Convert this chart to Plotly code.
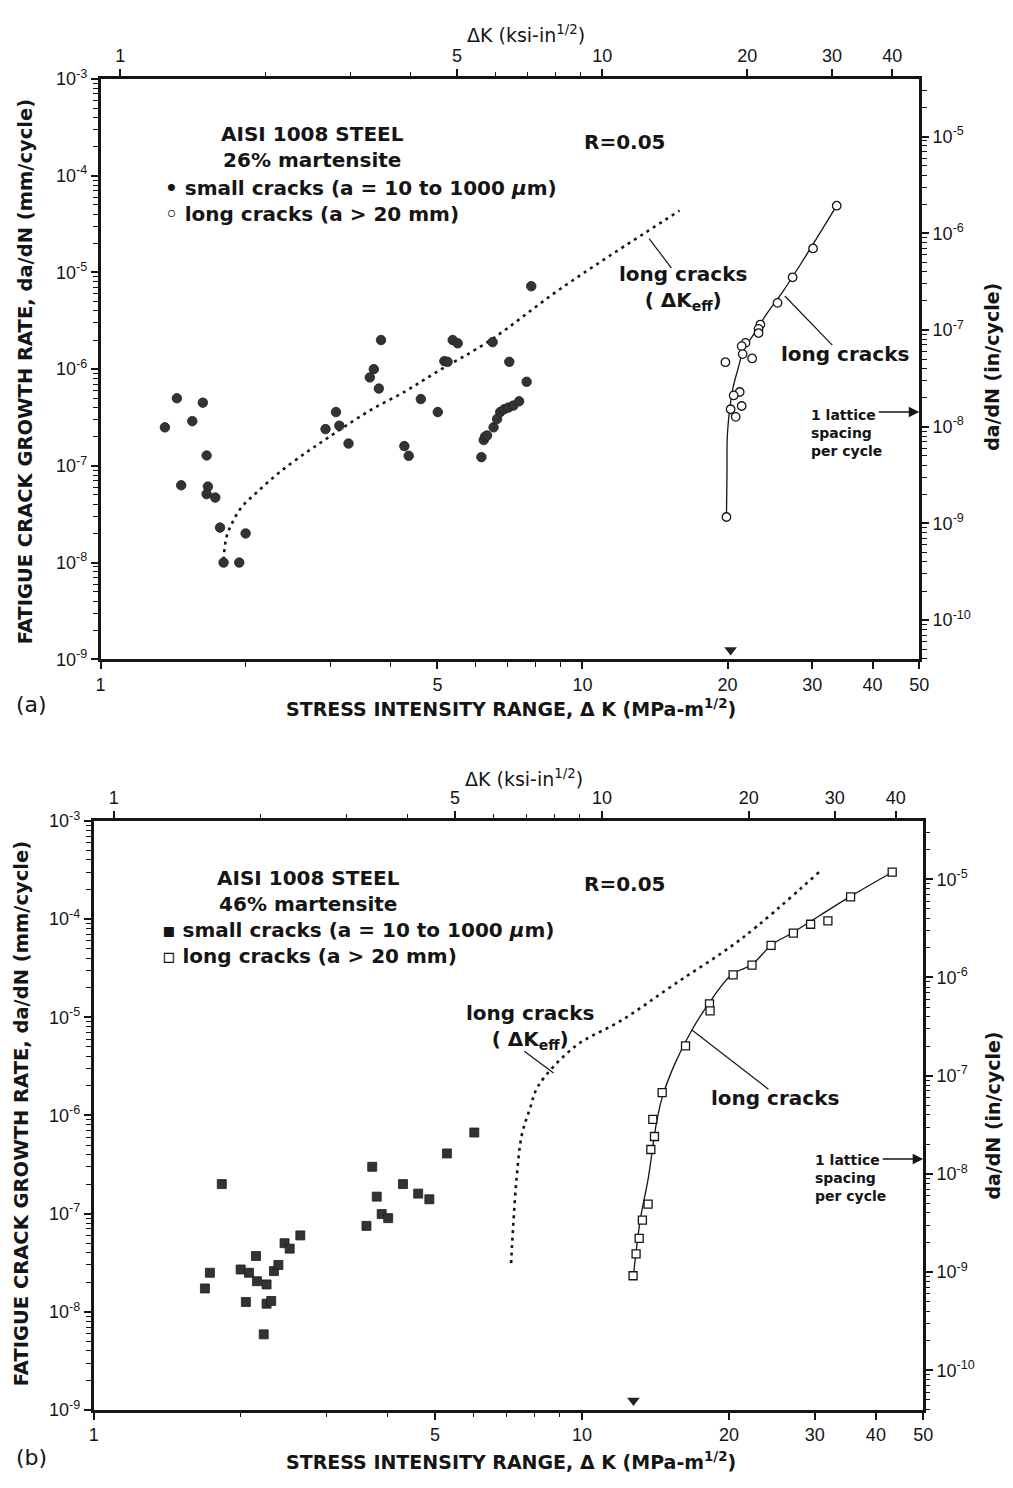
import numpy as np
import plotly.graph_objects as go

W, H = 1013, 1488
KSI_TO_MPA = 1.0988      # 1 ksi·in^1/2 expressed in MPa·m^1/2
MM_PER_IN = 25.4
FONT = "Liberation Sans"
TEXT_FONT = "DejaVu Sans"
INK = "#151515"

# ---------------- (a) AISI 1008, 26% martensite ----------------
a_small_dk = [1.36, 1.44, 1.47, 1.55, 1.63, 1.66, 1.67, 1.66, 1.73, 1.77, 2.00, 1.80, 1.94,
              3.08, 2.93, 3.13, 3.27, 3.82, 3.69, 3.62, 3.78, 4.62, 4.27, 4.36, 5.01,
              5.38, 5.51, 5.17, 5.25, 6.51, 7.05, 7.66, 7.83,
              6.17, 6.24, 6.28, 6.34, 6.54, 6.65, 6.75, 6.88, 7.02, 7.19, 7.39]
a_small_rate = [2.5e-7, 5.0e-7, 6.3e-8, 2.9e-7, 4.5e-7, 1.28e-7, 6.1e-8, 5.1e-8, 4.7e-8, 2.3e-8, 2.0e-8, 1.0e-8, 1.0e-8,
                3.6e-7, 2.4e-7, 2.6e-7, 1.7e-7, 2.0e-6, 1.0e-6, 8.2e-7, 6.3e-7, 4.9e-7, 1.6e-7, 1.27e-7, 3.6e-7,
                2.0e-6, 1.85e-6, 1.21e-6, 1.19e-6, 1.9e-6, 1.19e-6, 7.4e-7, 7.2e-6,
                1.23e-7, 1.85e-7, 2.0e-7, 2.06e-7, 2.5e-7, 3.05e-7, 3.6e-7, 3.85e-7, 4.0e-7, 4.2e-7, 4.65e-7]

a_long_dk = [33.7, 30.1, 27.3, 25.4, 23.4, 23.2, 23.2, 21.8, 21.4, 21.5, 22.5, 19.8,
             21.2, 20.6, 21.4, 20.3, 20.8, 19.9]
a_long_rate = [4.9e-5, 1.77e-5, 8.9e-6, 4.84e-6, 2.89e-6, 2.61e-6, 2.36e-6, 1.87e-6, 1.73e-6, 1.43e-6, 1.29e-6, 1.18e-6,
               5.8e-7, 5.35e-7, 4.16e-7, 3.85e-7, 3.21e-7, 2.96e-8]

a_fit_dk = [19.9, 19.95, 20.0, 20.5, 21.0, 21.6, 22.7, 24.1, 26.1, 28.6, 33.7]
a_fit_rate = [2.96e-8, 8.0e-8, 2.2e-7, 6.15e-7, 9.8e-7, 1.57e-6, 2.32e-6, 3.71e-6, 6.42e-6, 1.3e-5, 4.9e-5]

a_eff_dk = [1.80, 1.825, 1.87, 1.96, 2.12, 2.36, 2.68, 2.94, 3.23, 3.66, 4.29, 4.94, 6.44, 9.05, 15.9]
a_eff_rate = [1.07e-8, 1.84e-8, 2.49e-8, 3.72e-8, 5.45e-8, 8.7e-8, 1.39e-7, 1.9e-7, 2.6e-7, 3.85e-7,
              5.9e-7, 9.1e-7, 1.99e-6, 6.9e-6, 4.35e-5]

a_threshold_dk = 20.3

# ---------------- (b) AISI 1008, 46% martensite ----------------
b_small_dk = [1.83, 1.73, 1.69, 2.15, 2.00, 2.08, 2.16, 2.26, 2.34, 2.39, 2.05, 2.26, 2.31, 2.23,
              2.46, 2.52, 2.65, 3.62, 3.72, 3.80, 3.89, 4.01, 4.30, 4.62, 4.87, 5.29, 6.02]
b_small_rate = [2.0e-7, 2.5e-8, 1.73e-8, 3.7e-8, 2.7e-8, 2.5e-8, 2.05e-8, 1.9e-8, 2.6e-8, 3.0e-8, 1.26e-8, 1.21e-8,
                1.29e-8, 5.9e-9, 5.0e-8, 4.4e-8, 6.0e-8, 7.5e-8, 3.0e-7, 1.49e-7, 9.9e-8, 9.0e-8, 2.0e-7,
                1.6e-7, 1.4e-7, 4.1e-7, 6.7e-7]

b_long_dk = [43.2, 35.5, 31.9, 29.4, 27.1, 24.4, 22.3, 20.4, 18.25, 18.3, 16.3, 14.6,
             13.97, 14.08, 13.84, 13.66, 13.3, 13.1, 12.91, 12.73]
b_long_rate = [3.0e-4, 1.68e-4, 9.6e-5, 8.85e-5, 7.2e-5, 5.4e-5, 3.4e-5, 2.7e-5, 1.37e-5, 1.16e-5, 5.1e-6, 1.71e-6,
               9.1e-7, 6.1e-7, 4.5e-7, 1.25e-7, 8.6e-8, 5.6e-8, 3.9e-8, 2.33e-8]

b_fit_dk = [12.75, 13.16, 13.68, 14.22, 14.64, 15.53, 16.8, 18.17, 20.28, 22.3, 24.5, 26.9, 35.4, 43.2]
b_fit_rate = [2.33e-8, 8.5e-8, 2.33e-7, 8.57e-7, 1.59e-6, 3.43e-6, 7.41e-6, 1.37e-5, 2.72e-5,
              3.45e-5, 5.48e-5, 7.18e-5, 1.69e-4, 3.0e-4]

b_eff_dk = [7.16, 7.23, 7.35, 7.53, 7.83, 8.14, 9.68, 12.07, 15.5, 21.3, 30.8]
b_eff_rate = [3.13e-8, 7.35e-8, 2.33e-7, 6.3e-7, 1.18e-6, 2.0e-6, 5.04e-6, 9.33e-6, 2.18e-5, 6.4e-5, 3.1e-4]

b_threshold_dk = 12.75

LATTICE_RATE = 3.6e-7        # mm/cycle, one lattice spacing per cycle
ARROW_RATE = 1.25e-9         # height of threshold marker above the lower axis

# axis tick sets
dk_major = [1, 5, 10, 20, 30, 40, 50]
dk_minor = [2, 3, 4, 6, 7, 8, 9]
ksi_major = [1, 5, 10, 20, 30, 40]
ksi_minor = [2, 3, 4, 6, 7, 8, 9]
mm_decades = list(range(-9, -2))
in_decades = list(range(-10, -4))


def minor_log(decades):
    return [m * 10.0 ** d for d in decades for m in range(2, 10)]


def pow_label(d):
    return "10<sup>%d</sup>" % d


tickfont = dict(family=FONT, size=18, color=INK)
axis_common = dict(showline=True, linewidth=2.5, linecolor=INK, showgrid=False, zeroline=False,
                   ticks="outside", ticklen=7, tickwidth=2, tickcolor=INK, tickfont=tickfont,
                   fixedrange=True)


def minor_spec(vals):
    return dict(tickmode="array", tickvals=vals, ticks="outside", ticklen=4.5, tickwidth=1.4, tickcolor=INK)


def axes(xdom, ydom, anchor_x, anchor_y):
    bottom = dict(type="log", range=[0, np.log10(50)], domain=xdom, anchor=anchor_y,
                  tickmode="array", tickvals=dk_major, ticktext=[str(v) for v in dk_major],
                  minor=minor_spec(dk_minor), **axis_common)
    top = dict(type="log", range=[np.log10(1 / KSI_TO_MPA), np.log10(50 / KSI_TO_MPA)],
               overlaying=anchor_x, side="top", anchor=anchor_y,
               tickmode="array", tickvals=ksi_major, ticktext=[str(v) for v in ksi_major],
               minor=minor_spec(ksi_minor), **axis_common)
    left = dict(type="log", range=[-9, -3], domain=ydom, anchor=anchor_x,
                tickmode="array", tickvals=[10.0 ** d for d in mm_decades],
                ticktext=[pow_label(d) for d in mm_decades],
                minor=minor_spec(minor_log(range(-9, -3))), **axis_common)
    right = dict(type="log", range=[-9 - np.log10(MM_PER_IN), -3 - np.log10(MM_PER_IN)],
                 overlaying=anchor_y, side="right", anchor=anchor_x,
                 tickmode="array", tickvals=[10.0 ** d for d in in_decades],
                 ticktext=[pow_label(d) for d in in_decades],
                 minor=minor_spec(minor_log(range(-11, -4))), **axis_common)
    return bottom, top, left, right


fig = go.Figure()

panels = [
    dict(xa="x", ya="y", xt="x2", yr="y2", xdom=[97 / W, 928 / W], ydom=[1 - 657 / H, 1 - 68 / H],
         small=(a_small_dk, a_small_rate), long=(a_long_dk, a_long_rate), fit=(a_fit_dk, a_fit_rate),
         eff=(a_eff_dk, a_eff_rate), thr=a_threshold_dk, small_sym="circle", long_sym="circle",
         small_size=9.5, long_size=8.5),
    dict(xa="x3", ya="y3", xt="x4", yr="y4", xdom=[90 / W, 932 / W], ydom=[1 - 1419 / H, 1 - 821 / H],
         small=(b_small_dk, b_small_rate), long=(b_long_dk, b_long_rate), fit=(b_fit_dk, b_fit_rate),
         eff=(b_eff_dk, b_eff_rate), thr=b_threshold_dk, small_sym="square", long_sym="square",
         small_size=9, long_size=8),
]

layout_axes = {}
for i, p in enumerate(panels):
    bottom, top, left, right = axes(p["xdom"], p["ydom"], p["xa"], p["ya"])
    n = 2 * i
    layout_axes["xaxis" + ("" if n == 0 else str(n + 1))] = bottom
    layout_axes["xaxis" + str(n + 2)] = top
    layout_axes["yaxis" + ("" if n == 0 else str(n + 1))] = left
    layout_axes["yaxis" + str(n + 2)] = right

    ref = dict(xaxis=p["xa"], yaxis=p["ya"], showlegend=False, hoverinfo="skip")
    # secondary (ksi / in) scales
    fig.add_trace(go.Scatter(x=[], y=[], xaxis=p["xt"], yaxis=p["yr"], showlegend=False))
    # effective-ΔK long crack curve
    fig.add_trace(go.Scatter(x=p["eff"][0], y=p["eff"][1], mode="lines", line_shape="spline",
                             line=dict(color=INK, width=2.6, dash="3px,4.5px"), **ref))
    # long crack trend line
    fig.add_trace(go.Scatter(x=p["fit"][0], y=p["fit"][1], mode="lines", line_shape="spline",
                             line=dict(color=INK, width=1.3), **ref))
    # small cracks
    fig.add_trace(go.Scatter(x=p["small"][0], y=p["small"][1], mode="markers",
                             marker=dict(symbol=p["small_sym"], size=p["small_size"], color="#333333",
                                         line=dict(color="#1e1e1e", width=0.8)), **ref))
    # long cracks
    fig.add_trace(go.Scatter(x=p["long"][0], y=p["long"][1], mode="markers",
                             marker=dict(symbol=p["long_sym"], size=p["long_size"], color="white",
                                         line=dict(color=INK, width=1.3)), **ref))
    # threshold marker on the ΔK axis
    fig.add_trace(go.Scatter(x=[p["thr"]], y=[ARROW_RATE], mode="markers",
                             marker=dict(symbol="triangle-down", size=11, color="#222"), **ref))
    # one lattice spacing per cycle arrow
    fig.add_annotation(x=np.log10(50), y=np.log10(LATTICE_RATE), xref=p["xa"], yref=p["ya"],
                       ax=-42, ay=0, showarrow=True, arrowhead=2, arrowsize=1.4, arrowwidth=1.5,
                       arrowcolor=INK, text="")

# leader lines from labels to curves
leaders = [
    ("x", "y", [13.75, 15.3], [2.24e-5, 1.11e-5]),
    ("x", "y", [26.3, 33.0], [5.7e-6, 1.77e-6]),
    ("x3", "y3", [8.75, 7.62], [2.7e-6, 4.5e-6]),
    ("x3", "y3", [16.8, 24.1], [7.41e-6, 1.85e-6]),
]
for xa, ya, xs, ys in leaders:
    fig.add_trace(go.Scatter(x=xs, y=ys, mode="lines", line=dict(color=INK, width=1.2),
                             xaxis=xa, yaxis=ya, showlegend=False, hoverinfo="skip"))


def note(px, py, text, size=20, bold=True, xanchor="center", angle=0, family=TEXT_FONT, align="center"):
    fig.add_annotation(x=px / W, y=1 - py / H, xref="paper", yref="paper", showarrow=False,
                       text=("<b>%s</b>" % text) if bold else text, xanchor=xanchor, yanchor="middle",
                       textangle=angle, align=align, font=dict(family=family, size=size, color=INK))


ylabel = "FATIGUE CRACK GROWTH RATE, da/dN (mm/cycle)"
xlabel = "STRESS INTENSITY RANGE, \u0394 K (MPa-m<sup>1/2</sup>)"
toplabel = "\u0394K (ksi-in<sup>1/2</sup>)"
rlabel = "da/dN (in/cycle)"
eff_label = "long cracks<br>( \u0394K<sub>eff</sub>)"
lattice_label = "1 lattice<br>spacing<br>per cycle"

# panel (a) text
note(312, 137, "AISI 1008 STEEL<br>26% martensite")
note(160, 192, "\u2022 small cracks (a = 10 to 1000 <i>\u03bc</i>m)<br>\u25e6 long cracks (a > 20 mm)",
     xanchor="left", align="left")
note(629, 132, "R=0.05")
note(688, 280, eff_label)
note(853, 347, "long cracks")
note(816, 427, lattice_label, size=14, xanchor="left", align="left")
note(529, 22, toplabel, size=19, bold=False)
note(514, 706, xlabel, size=19)
note(21, 365, ylabel, size=19.5, angle=-90)
note(1001, 360, rlabel, size=19, angle=-90)
note(27, 703, "(a)", size=22, bold=False)

# panel (b) text
note(308, 892, "AISI 1008 STEEL<br>46% martensite")
note(157, 945, "\u25aa small cracks (a = 10 to 1000 <i>\u03bc</i>m)<br>\u25ab long cracks (a > 20 mm)",
     xanchor="left", align="left")
note(629, 885, "R=0.05")
note(533, 1030, eff_label)
note(782, 1102, "long cracks")
note(820, 1183, lattice_label, size=14, xanchor="left", align="left")
note(527, 777, toplabel, size=19, bold=False)
note(514, 1471, xlabel, size=19)
note(17, 1118, ylabel, size=19.5, angle=-90)
note(1003, 1120, rlabel, size=19, angle=-90)
note(27, 1467, "(b)", size=22, bold=False)

fig.update_layout(width=W, height=H, margin=dict(l=0, r=0, t=0, b=0), autosize=False,
                  paper_bgcolor="white", plot_bgcolor="white", showlegend=False, **layout_axes)

fig.write_html("out.html")
